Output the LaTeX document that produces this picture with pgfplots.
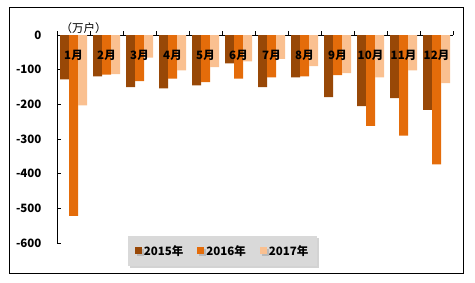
\documentclass[border=0pt]{standalone}
\usepackage{fontspec}
\setmainfont{Noto Sans CJK SC}
\usepackage{pgfplots}
\pgfplotsset{compat=1.18}
\usetikzlibrary{shadows}
\definecolor{c15}{HTML}{984807}
\definecolor{c16}{HTML}{E46C0A}
\definecolor{c17}{HTML}{FAC090}
\definecolor{lg}{HTML}{D9D9D9}
\newcommand{\fs}{\fontsize{11.5}{13}\selectfont}
\pgfplotstableread{
m y15 y16 y17
1 -128 -522 -203
2 -119 -114 -113
3 -150 -133 -65
4 -154 -126 -102
5 -145 -136 -93
6 -82 -126 -76
7 -150 -122 -69
8 -122 -119 -90
9 -179 -116 -110
10 -205 -262 -122
11 -182 -290 -102
12 -216 -373 -139
}\data
\begin{document}
\begin{tikzpicture}
\useasboundingbox (0pt,0pt) rectangle (475pt,282pt);
\draw[line width=0.8pt] (9pt,9pt) rectangle (463pt,275pt);
\begin{axis}[
  at={(57pt,39pt)}, anchor=south west,
  scale only axis, width=396pt, height=208pt,
  ybar=0pt, bar width=9pt,
  xmin=0.5, xmax=12.5, ymin=-600, ymax=0,
  axis y line*=left, axis x line*=top,
  xtick={0.5,1.5,...,12.5}, xticklabels={},
  ytick={-600,-500,...,0},
  xtick align=outside, ytick align=inside,
  major tick length=4pt,
  tick style={black, line width=0.6pt},
  axis line style={black, line width=0.6pt},
  tick label style={font=\fs\bfseries},
  /pgf/number format/assume math mode=true,
  yticklabel style={xshift=-12pt},
  legend columns=3,
  legend style={at={(0.418,-0.038)}, anchor=center, draw=none, fill=lg,
    drop shadow={opacity=0.35, shadow xshift=2pt, shadow yshift=-2pt},
    font=\fs\bfseries,
    inner xsep=7pt, inner ysep=7pt,
    /tikz/every even column/.append style={column sep=12pt}},
  myleg/.style={legend image code/.code={\fill[##1,draw=none] (0pt,-3.5pt) rectangle (7pt,3.5pt);}},
  clip=false,
]
\addplot[fill=c15, draw=none, myleg] table[x=m, y=y15] {\data};
\addplot[fill=c16, draw=none, myleg] table[x=m, y=y16] {\data};
\addplot[fill=c17, draw=none, myleg] table[x=m, y=y17] {\data};
\legend{2015年,2016年,2017年}
\node[anchor=south west, inner sep=0pt, font=\fs] at (axis cs:0.6,4) {（万户）};
\node[font=\fs\bfseries] at (axis cs:1,-58) {1月};
\node[font=\fs\bfseries] at (axis cs:2,-58) {2月};
\node[font=\fs\bfseries] at (axis cs:3,-58) {3月};
\node[font=\fs\bfseries] at (axis cs:4,-58) {4月};
\node[font=\fs\bfseries] at (axis cs:5,-58) {5月};
\node[font=\fs\bfseries] at (axis cs:6,-58) {6月};
\node[font=\fs\bfseries] at (axis cs:7,-58) {7月};
\node[font=\fs\bfseries] at (axis cs:8,-58) {8月};
\node[font=\fs\bfseries] at (axis cs:9,-58) {9月};
\node[font=\fs\bfseries] at (axis cs:10,-58) {10月};
\node[font=\fs\bfseries] at (axis cs:11,-58) {11月};
\node[font=\fs\bfseries] at (axis cs:12,-58) {12月};
\end{axis}
\end{tikzpicture}
\end{document}
